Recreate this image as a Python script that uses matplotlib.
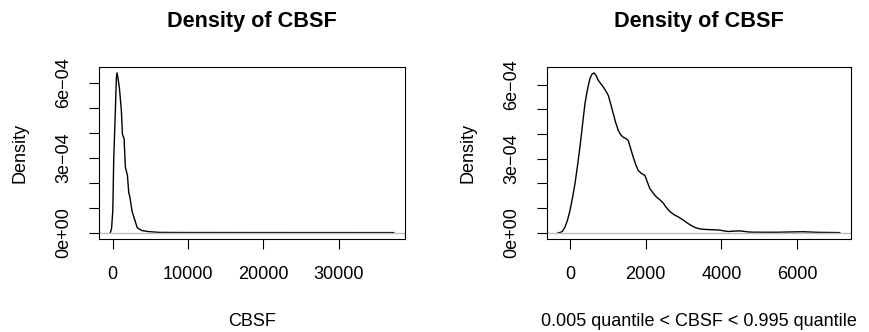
import matplotlib
matplotlib.use("Agg")
import matplotlib.pyplot as plt
from matplotlib.ticker import FixedLocator, FixedFormatter

plt.rcParams['font.family'] = ['Liberation Sans', 'DejaVu Sans']

# ---- data ----
left_x = [-311, -150, 0, 44, 133, 356, 489, 578, 700, 889, 1156, 1289, 1400, 1511,
          1689, 1956, 2133, 2267, 2578, 2711, 3244, 3378, 3911, 4800, 6133, 8000,
          12000, 20000, 30000, 37290]
left_y = [0.0, 0.15e-4, 0.8e-4, 1.28e-4, 2.88e-4, 4.88e-4, 6.2e-4, 6.4e-4, 6.2e-4,
          5.81e-4, 4.88e-4, 3.95e-4, 3.85e-4, 3.78e-4, 2.61e-4, 2.3e-4, 1.6e-4,
          1.45e-4, 0.85e-4, 0.72e-4, 0.21e-4, 0.17e-4, 0.08e-4, 0.04e-4, 0.01e-4,
          0.005e-4, 0.003e-4, 0.002e-4, 0.001e-4, 0.0]

right_x = [-309, -264, -200, -132, -66, 0, 66, 132, 198, 264, 330, 396, 462, 528,
           580, 634, 690, 748, 810, 880, 945, 1012, 1080, 1144, 1210, 1276, 1340,
           1408, 1475, 1540, 1605, 1672, 1740, 1804, 1890, 1980, 2045, 2112, 2200,
           2288, 2376, 2464, 2508, 2600, 2684, 2780, 2860, 2992, 3100, 3212, 3320,
           3432, 3560, 3696, 3830, 3960, 4070, 4180, 4330, 4488, 4620, 4752, 5100,
           5456, 5800, 6160, 6400, 6600, 7128]
right_y = [0.0, 0.0, 0.05e-4, 0.22e-4, 0.5e-4, 0.89e-4, 1.4e-4, 1.98e-4, 2.7e-4,
           3.47e-4, 4.35e-4, 5.23e-4, 5.8e-4, 6.25e-4, 6.42e-4, 6.48e-4, 6.38e-4,
           6.18e-4, 6.05e-4, 5.91e-4, 5.75e-4, 5.57e-4, 5.2e-4, 4.83e-4, 4.45e-4,
           4.15e-4, 3.97e-4, 3.87e-4, 3.82e-4, 3.74e-4, 3.4e-4, 3.06e-4, 2.75e-4,
           2.52e-4, 2.4e-4, 2.32e-4, 2.05e-4, 1.78e-4, 1.6e-4, 1.44e-4, 1.33e-4,
           1.2e-4, 1.10e-4, 0.92e-4, 0.8e-4, 0.7e-4, 0.64e-4, 0.51e-4, 0.39e-4,
           0.28e-4, 0.2e-4, 0.15e-4, 0.13e-4, 0.12e-4, 0.115e-4, 0.10e-4, 0.07e-4,
           0.045e-4, 0.06e-4, 0.07e-4, 0.045e-4, 0.02e-4, 0.015e-4, 0.015e-4,
           0.025e-4, 0.035e-4, 0.02e-4, 0.01e-4, 0.0]

left_xticks = [0, 10000, 20000, 30000]
left_xticklabels = ["0", "10000", "20000", "30000"]
right_xticks = [0, 2000, 4000, 6000]
right_xticklabels = ["0", "2000", "4000", "6000"]
yticks = [0, 1e-4, 2e-4, 3e-4, 4e-4, 5e-4, 6e-4]
yticklabels = ["0e+00", "", "", "3e\u221204", "", "", "6e\u221204"]

title_text = "Density of CBSF"
left_xlabel = "CBSF"
right_xlabel = "0.005 quantile < CBSF < 0.995 quantile"
ylabel_text = "Density"

# ---- figure ----
W, H = 869, 332
DPI = 100
fig = plt.figure(figsize=(W / DPI, H / DPI), dpi=DPI)

FS = 18 * 72 / DPI        # tick / axis label size (18 px)
FS_T = 21.6 * 72 / DPI    # title size

def px_axes(x0, x1, ytop, ybot):
    return [x0 / W, (H - ybot) / H, (x1 - x0) / W, (ybot - ytop) / H]

panels = [
    (px_axes(99, 405, 66.5, 239), left_x, left_y, left_xticks, left_xticklabels, left_xlabel),
    (px_axes(547, 851, 66.5, 239), right_x, right_y, right_xticks, right_xticklabels, right_xlabel),
]

for rect, xs, ys, xt, xtl, xl in panels:
    ax = fig.add_axes(rect)
    ax.plot(xs, ys, color="black", lw=1.0, zorder=2)
    ax.axhline(0, color="#BEBEBE", lw=1.0, zorder=3)
    ax.margins(x=0.04, y=0.04)
    ax.xaxis.set_major_locator(FixedLocator(xt))
    ax.xaxis.set_major_formatter(FixedFormatter(xtl))
    ax.yaxis.set_major_locator(FixedLocator(yticks))
    ax.yaxis.set_major_formatter(FixedFormatter(yticklabels))
    for s in ax.spines.values():
        s.set_linewidth(0.8)
        s.set_color("black")
        s.set_zorder(4)
    ax.tick_params(axis="both", direction="out", length=7.2, width=0.8,
                   labelsize=FS, color="black")
    ax.tick_params(axis="x", pad=12.5)
    ax.tick_params(axis="y", pad=12)
    for lab in ax.get_yticklabels():
        lab.set_rotation(90)
        lab.set_va("center")
        lab.set_ha("right")

    x0p = rect[0] * W
    x1p = (rect[0] + rect[2]) * W
    cx = (x0p + x1p) / 2
    fig.text(cx / W, (H - 27) / H, title_text, ha="center", va="baseline",
             fontsize=FS_T, fontweight="bold")
    fig.text(cx / W, (H - 326.5) / H, xl, ha="center", va="baseline", fontsize=FS)
    fig.text((x0p - 79) / W, (H - 152.75) / H, ylabel_text, ha="center", va="center",
             rotation=90, fontsize=FS)

fig.savefig("out.png", dpi=DPI)
